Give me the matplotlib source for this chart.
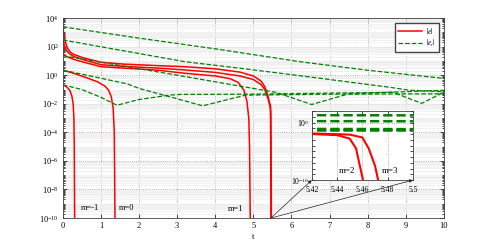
import numpy as np
import matplotlib.pyplot as plt
from matplotlib.ticker import LogLocator, NullFormatter, FixedLocator

plt.rcParams['font.family'] = ['Liberation Serif', 'DejaVu Serif']
plt.rcParams['mathtext.fontset'] = 'stix'
plt.rcParams['font.size'] = 6

# |e| for m = -1 .. 3 (log10 values)
t_m_1 = [0, 0.08, 0.14, 0.19, 0.24, 0.27, 0.29, 0.30, 0.31]
log_e_m_1 = [-0.67, -0.78, -0.92, -1.1, -1.5, -2.0, -3.0, -5.0, -10.5]

t_m0 = [0, 0.3, 0.6, 0.9, 1.1, 1.2, 1.27, 1.32, 1.35, 1.37]
log_e_m0 = [0.36, 0.12, -0.15, -0.45, -0.75, -1.04, -1.5, -2.3, -4.0, -10.5]

t_m1 = [0, 0.1, 0.2, 0.3, 0.5, 1, 1.6, 2.5, 3.2, 4.0, 4.4, 4.6, 4.75, 4.83, 4.88, 4.9, 4.92]
log_e_m1 = [1.5, 1.3, 1.2, 1.1, 0.95, 0.6, 0.5, 0.35, 0.14, -0.05, -0.25, -0.5,
            -1.04, -1.8, -3.0, -5.0, -10.5]

t_m2 = [0, 0.05, 0.1, 0.2, 0.3, 0.5, 1, 1.6, 2.5, 3.2, 4.0, 4.65, 5.0, 5.2, 5.3,
        5.38, 5.42, 5.44, 5.45, 5.455, 5.459, 5.461]
log_e_m2 = [2.5, 2.0, 1.7, 1.45, 1.3, 1.12, 0.74, 0.62, 0.5, 0.37, 0.2, -0.05, -0.3,
            -0.65, -1.0, -1.6, -2.0, -2.2, -2.8, -4.5, -8.5, -10.5]

t_m3 = [0, 0.03, 0.07, 0.12, 0.2, 0.3, 0.5, 1, 1.6, 2.5, 3.2, 4.0, 4.65, 5.0, 5.2,
        5.3, 5.38, 5.42, 5.45, 5.46, 5.465, 5.47, 5.473]
log_e_m3 = [3.37, 2.8, 2.3, 1.9, 1.6, 1.45, 1.25, 0.91, 0.78, 0.67, 0.6, 0.45, 0.22,
            -0.05, -0.4, -0.8, -1.4, -1.9, -2.1, -2.6, -4.5, -7.5, -10.5]

# |e_i| components
t_a = [0, 2, 4, 6.22, 8, 10]
log_a = [3.39, 2.6, 1.85, 0.95, 0.35, -0.22]

t_b = [0, 3.2, 4.65, 6.22, 8.6, 9.1, 10]
log_b = [2.47, 0.95, 0.49, -0.03, -0.85, -1.05, -1.15]

t_c = [0, 3.07, 5.6, 6.53, 7.5, 10]
log_c = [1.37, -0.03, -1.2, -2.05, -1.3, -1.05]

t_d = [0, 1.7, 2.0, 3.67, 4.8, 7, 10]
log_d = [0.36, -0.61, -0.92, -2.14, -1.39, -1.33, -1.3]

t_e = [0, 0.5, 1.0, 1.42, 2.0, 2.8, 3.1, 4.8, 7, 8.67, 9.42, 10]
log_e = [-0.67, -1.0, -1.55, -2.1, -1.7, -1.39, -1.34, -1.33, -1.25, -1.2, -1.97, -1.18]

red_curves = [(t_m_1, log_e_m_1), (t_m0, log_e_m0), (t_m1, log_e_m1),
              (t_m2, log_e_m2), (t_m3, log_e_m3)]
green_curves = [(t_a, log_a), (t_b, log_b), (t_c, log_c), (t_d, log_d), (t_e, log_e)]

labels_main = [(0.47, 5e-10, 'm=-1'), (1.47, 5e-10, 'm=0'), (4.33, 4e-10, 'm=1')]
labels_inset = [(5.441, 4e-9, 'm=2'), (5.475, 4e-9, 'm=3')]

fig = plt.figure(figsize=(4.91, 2.45), dpi=100)
ax = fig.add_axes([0.128, 0.110, 0.776, 0.816])


def draw(a, lw_r, lw_g):
    hr = hg = None
    for t, lv in red_curves:
        hr, = a.plot(t, 10.0 ** np.array(lv), color='#ff0000', lw=lw_r)
    for t, lv in green_curves:
        hg, = a.plot(t, 10.0 ** np.array(lv), color='#008000', lw=lw_g, ls='--')
    return hr, hg


hr, hg = draw(ax, 1.1, 0.9)
ax.set_yscale('log')
ax.set_xlim(0, 10)
ax.set_ylim(1e-10, 1e4)
ax.set_xticks(range(0, 11))
ax.set_yticks([10.0 ** k for k in range(-10, 5, 2)])
ax.yaxis.set_minor_locator(LogLocator(base=10, subs=np.arange(1, 10), numticks=100))
ax.yaxis.set_minor_formatter(NullFormatter())
ax.tick_params(which='both', direction='in', top=True, right=True, width=0.5)
ax.tick_params(which='major', length=3, pad=3)
ax.tick_params(which='minor', length=1.5)
ax.grid(True, which='major', ls=':', color='#999999', lw=0.6)
ax.grid(True, which='minor', axis='y', ls='-', color='#ececec', lw=0.5)
ax.set_axisbelow(True)
for s in ax.spines.values():
    s.set_linewidth(0.6)
    s.set_color('#444444')
ax.set_xlabel('t', labelpad=2)

for x, y, s in labels_main:
    ax.text(x, y, s, fontsize=6, va='center')

ax.legend([hr, hg], [r'$|e|$', r'$|e_i|$'], loc='upper right', fontsize=5.5,
          fancybox=False, edgecolor='#444444', framealpha=1, handlelength=3.2,
          borderaxespad=0.7, labelspacing=0.25, borderpad=0.35, handletextpad=0.5)

# inset zoom
axins = fig.add_axes([0.635, 0.265, 0.206, 0.282])
draw(axins, 1.5, 1.8)
axins.set_yscale('log')
axins.set_xlim(5.42, 5.5)
axins.set_ylim(1e-10, 1e2)
axins.xaxis.set_major_locator(FixedLocator([5.42, 5.44, 5.46, 5.48, 5.5]))
axins.set_xticklabels(['5.42', '5.44', '5.46', '5.48', '5.5'])
axins.set_yticks([1e-10, 1e0])
axins.yaxis.set_minor_locator(LogLocator(base=10, subs=[1.0], numticks=100))
axins.yaxis.set_minor_formatter(NullFormatter())
axins.tick_params(which='both', direction='in', top=True, right=True, width=0.5,
                  length=2, labelsize=5.5)
axins.tick_params(axis='x', pad=4.5)
axins.tick_params(axis='y', pad=2)
axins.grid(True, which='major', ls=':', color='#999999', lw=0.6)
axins.set_axisbelow(True)
for s in axins.spines.values():
    s.set_linewidth(0.6)
    s.set_color('#444444')
for x, y, s in labels_inset:
    axins.text(x, y, s, fontsize=6.5, va='center')

for corner in [(0, 0), (1, 0)]:
    axins.annotate('', xy=corner, xycoords='axes fraction',
                   xytext=(5.46, 1e-10), textcoords=ax.transData,
                   arrowprops=dict(arrowstyle='-|>', color='#222222', lw=0.5,
                                   mutation_scale=5, shrinkA=0, shrinkB=0),
                   annotation_clip=False)

fig.savefig('out.png', dpi=100)
